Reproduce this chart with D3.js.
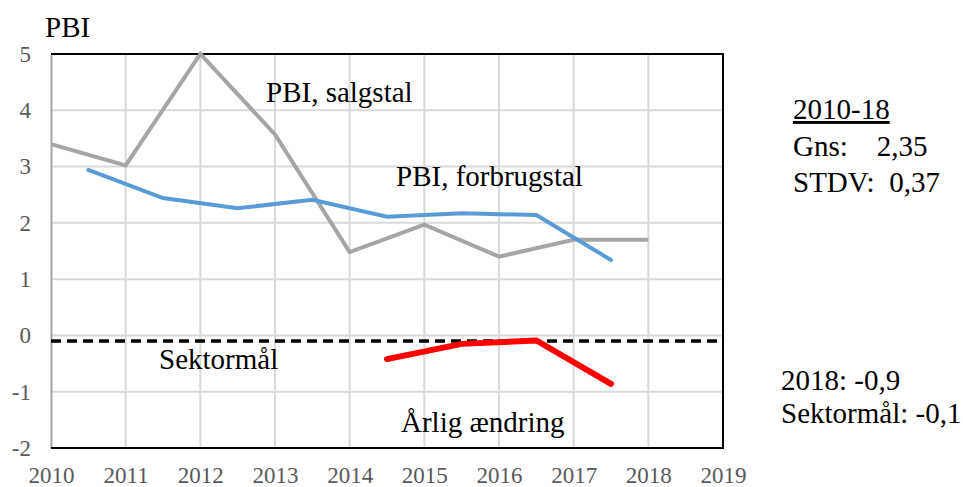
<!DOCTYPE html>
<html>
<head>
  <meta charset="UTF-8">
  <style>
    @font-face {
      font-family: "ChartSerif";
      src: local("Liberation Serif"), local("LiberationSerif"), local("LiberationSerif-Regular"),
           local("Times New Roman"), local("Tinos"), local("DejaVu Serif");
    }
  </style>
</head>
<body style="margin:0; background:white">
  <script src="https://d3js.org/d3.v7.min.js"></script>
  <svg></svg>
  <script>

// data
const xTicks = [2010, 2011, 2012, 2013, 2014, 2015, 2016, 2017, 2018, 2019];
const yTicks = [-2, -1, 0, 1, 2, 3, 4, 5];
const salgYears = [2010, 2011, 2012, 2013, 2014, 2015, 2016, 2017, 2018];
const salgstal = [3.4, 3.02, 5.0, 3.57, 1.48, 1.97, 1.40, 1.70, 1.70];
const forbrugYears = [2010.5, 2011.5, 2012.5, 2013.5, 2014.5, 2015.5, 2016.5, 2017.5];
const forbrugstal = [2.94, 2.44, 2.26, 2.41, 2.11, 2.17, 2.14, 1.34];
const aendYears = [2014.5, 2015.5, 2016.5, 2017.5];
const aendring = [-0.42, -0.15, -0.09, -0.86];
const sektormaal = -0.1;

const w = 963, h = 487;
const mLeft = 51, mRight = 723, mTop = 54, mBottom = 448;
const famOf = () => "'Liberation Serif', ChartSerif, 'Times New Roman', Tinos, 'DejaVu Serif'";

const svg = d3.select("svg").attr("width", w).attr("height", h);

const x = d3.scaleLinear().domain([2010, 2019]).range([mLeft, mRight]);
const y = d3.scaleLinear().domain([-2, 5]).range([mBottom, mTop]);

// gridlines
svg.append("g")
   .selectAll("line")
   .data(xTicks.slice(1, -1))
   .enter().append("line")
   .attr("x1", d => x(d)).attr("x2", d => x(d))
   .attr("y1", mTop).attr("y2", mBottom)
   .attr("stroke", "#d9d9d9").attr("stroke-width", 2);

svg.append("g")
   .selectAll("line")
   .data(yTicks.slice(1, -1))
   .enter().append("line")
   .attr("x1", mLeft).attr("x2", mRight)
   .attr("y1", d => y(d)).attr("y2", d => y(d))
   .attr("stroke", "#d9d9d9").attr("stroke-width", 2);

// axes (plain hyphen for minus, like the original)
const yAxis = svg.append("g")
   .attr("transform", `translate(${mLeft},0)`)
   .call(d3.axisLeft(y).tickValues(yTicks).tickFormat(d => String(d)).tickSize(0).tickPadding(20));
yAxis.select(".domain").attr("stroke", "#a6a6a6").attr("stroke-width", 2);

const xAxis = svg.append("g")
   .attr("transform", `translate(0,${mBottom})`)
   .call(d3.axisBottom(x).tickValues(xTicks).tickFormat(d => String(d)).tickSize(0).tickPadding(19));
xAxis.select(".domain").remove();

// d3 puts sans-serif on the axis groups, drop it
yAxis.attr("font-family", null);
xAxis.attr("font-family", null);
svg.selectAll(".tick text")
   .style("font-family", famOf)
   .style("font-size", "23px")
   .attr("fill", "#595959");

// frame (top, right, bottom)
svg.append("path")
   .attr("d", `M${mLeft},${mTop}H${mRight}V${mBottom}H${mLeft}`)
   .attr("fill", "none").attr("stroke", "black").attr("stroke-width", 2);

const line = d3.line().x(d => x(d[0])).y(d => y(d[1]));

// sektormål dashed
svg.append("path")
   .datum([[2010, sektormaal], [2019, sektormaal]])
   .attr("d", line)
   .attr("stroke", "black").attr("stroke-width", 3.5)
   .attr("stroke-dasharray", "10,6").attr("fill", "none");

svg.append("path")
   .datum(d3.zip(salgYears, salgstal))
   .attr("d", line)
   .attr("stroke", "#a5a5a5").attr("stroke-width", 4).attr("fill", "none");

svg.append("path")
   .datum(d3.zip(forbrugYears, forbrugstal))
   .attr("d", line)
   .attr("stroke", "#5b9bd5").attr("stroke-width", 4).attr("fill", "none")
   .attr("stroke-linecap", "round");

svg.append("path")
   .datum(d3.zip(aendYears, aendring))
   .attr("d", line)
   .attr("stroke", "#ff0000").attr("stroke-width", 6).attr("fill", "none")
   .attr("stroke-linecap", "round");

// labels
const labels = [
  ["PBI", 45, 37],
  ["PBI, salgstal", 266, 102],
  ["PBI, forbrugstal", 396, 186],
  ["Sektormål", 159, 369],
  ["Årlig ændring", 401, 432],
  ["Gns:    2,35", 793, 156],
  ["STDV:  0,37", 793, 192],
  ["2018: -0,9", 781, 390],
  ["Sektormål: -0,1", 781, 423]
];
svg.selectAll("text.lbl")
   .data(labels)
   .enter().append("text")
   .attr("class", "lbl")
   .attr("x", d => d[1])
   .attr("y", d => d[2])
   .style("font-family", famOf)
   .style("font-size", "29px")
   .style("white-space", "pre")
   .text(d => d[0]);

svg.append("text")
   .attr("x", 793).attr("y", 119)
   .style("font-family", famOf)
   .style("font-size", "29px")
   .attr("text-decoration", "underline")
   .text("2010-18");

  </script>
</body>
</html>
